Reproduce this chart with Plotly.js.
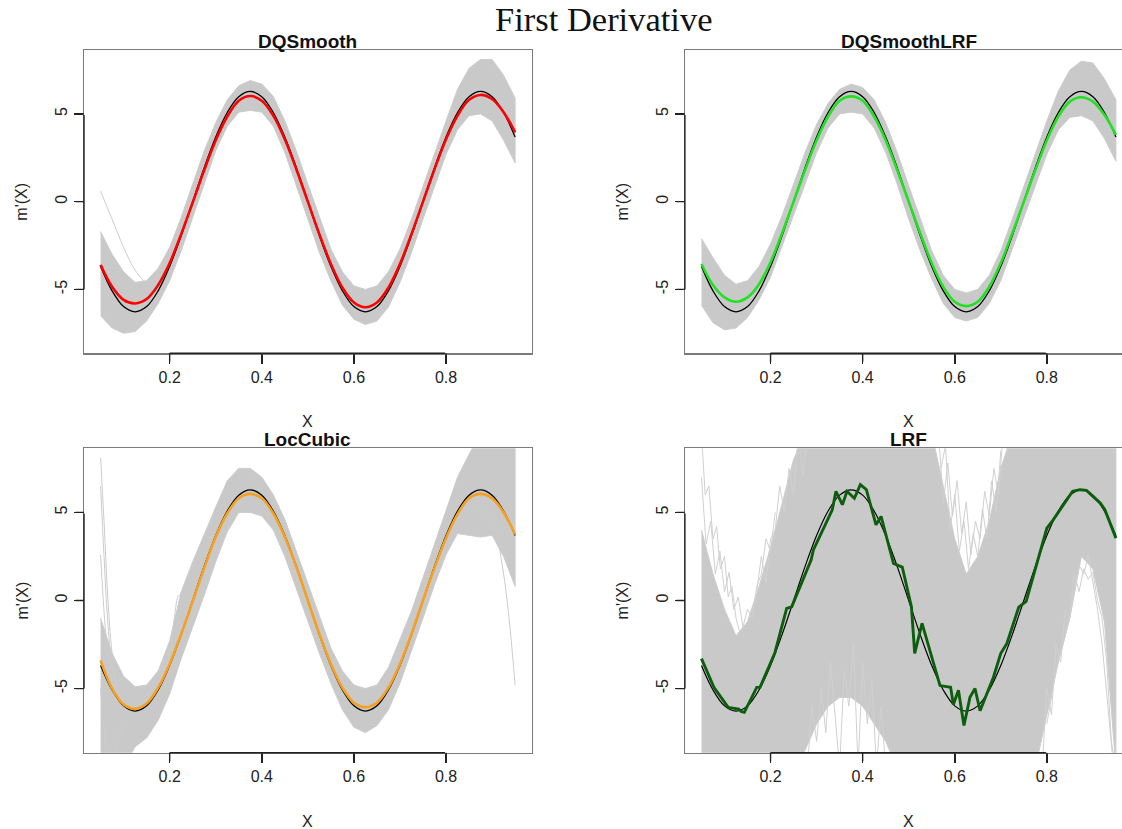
<!DOCTYPE html>
<html>
<head>
<meta charset="utf-8">
<script src="https://cdn.plot.ly/plotly-3.0.1.min.js"></script>
<style>
html,body{margin:0;padding:0;overflow:hidden;background:#fff;}
#chart{width:1202px;height:829px;}
</style>
</head>
<body>
<div id="chart"></div>
<script>
// ---------------- data ----------------
const xGrid = [0.05,0.075,0.1,0.125,0.15,0.175,0.2,0.225,0.25,0.275,0.3,0.325,0.35,0.375,0.4,0.425,0.45,0.475,0.5,
  0.525,0.55,0.575,0.6,0.625,0.65,0.675,0.7,0.725,0.75,0.775,0.8,0.825,0.85,0.875,0.9,0.925,0.95];

// true first derivative (black)
const trueDeriv = [-3.69,-5.08,-5.98,-6.28,-5.98,-5.08,-3.69,-1.94,0,1.94,3.69,5.08,5.98,6.28,5.98,5.08,3.69,1.94,0,
  -1.94,-3.69,-5.08,-5.98,-6.28,-5.98,-5.08,-3.69,-1.94,0,1.94,3.69,5.08,5.98,6.28,5.98,5.08,3.69];

// DQSmooth
const dqsMean = [-3.6,-4.85,-5.6,-5.8,-5.55,-4.75,-3.5,-1.85,-0.05,1.8,3.5,4.85,5.75,6.02,5.75,4.9,3.55,1.85,0,
  -1.85,-3.55,-4.9,-5.75,-6.02,-5.75,-4.9,-3.55,-1.85,0,1.85,3.55,4.9,5.8,6.08,5.85,5.1,3.95];
const dqsUpper = [-1.7,-3.0,-4.0,-4.6,-4.5,-3.8,-2.6,-0.9,1.0,2.9,4.5,5.8,6.6,6.9,6.7,6.0,4.6,2.9,1.0,
  -0.9,-2.7,-4.0,-4.8,-5.0,-4.8,-4.0,-2.7,-1.0,0.9,2.8,4.6,6.4,7.6,8.1,8.1,7.2,5.9];
const dqsLower = [-6.5,-7.2,-7.5,-7.4,-6.8,-5.8,-4.5,-2.8,-0.9,1.0,2.9,4.3,5.1,5.2,5.1,4.3,2.8,1.0,-1.0,
  -2.9,-4.5,-5.9,-6.7,-7.0,-6.8,-6.0,-4.6,-2.9,-1.0,0.9,2.7,4.1,4.9,5.0,4.6,3.5,2.2];
const dqsOutlierX = [0.05,0.075,0.1,0.125,0.15,0.175];
const dqsOutlierY = [0.6,-1.0,-2.6,-3.9,-4.6,-4.5];

// DQSmoothLRF
const dqlMean = [-3.55,-4.75,-5.45,-5.7,-5.45,-4.7,-3.45,-1.8,0,1.8,3.5,4.85,5.75,6.0,5.75,4.85,3.5,1.8,0,
  -1.8,-3.5,-4.85,-5.7,-5.95,-5.7,-4.85,-3.5,-1.8,0,1.8,3.5,4.85,5.7,5.95,5.7,4.95,3.8];
const dqlUpper = [-2.1,-3.2,-4.2,-4.7,-4.5,-3.7,-2.4,-0.8,1.0,2.8,4.4,5.6,6.4,6.7,6.5,5.8,4.5,2.8,0.9,
  -1.0,-2.8,-4.2,-5.0,-5.2,-5.0,-4.2,-2.8,-1.0,0.9,2.8,4.6,6.3,7.5,8.0,7.9,7.0,5.8];
const dqlLower = [-5.9,-6.9,-7.3,-7.2,-6.6,-5.6,-4.3,-2.6,-0.8,1.0,2.8,4.2,5.0,5.1,5.0,4.2,2.8,1.0,-1.0,
  -2.8,-4.4,-5.8,-6.6,-6.8,-6.6,-5.8,-4.5,-2.8,-0.9,0.9,2.7,4.1,4.8,4.9,4.6,3.6,2.3];

// LocCubic
const lcMean = [-3.4,-5.0,-5.9,-6.15,-5.85,-4.95,-3.6,-1.9,-0.05,1.85,3.6,4.95,5.8,6.05,5.8,4.95,3.6,1.9,0,
  -1.9,-3.6,-4.95,-5.8,-6.05,-5.8,-4.95,-3.6,-1.9,0,1.85,3.55,4.9,5.8,6.05,5.8,5.0,3.75];
const lcUpper = [-1.0,-3.0,-4.3,-4.9,-4.8,-4.0,-2.3,0.5,2.2,3.8,5.3,6.8,7.5,7.5,7.0,6.0,4.6,2.8,1.0,
  -0.9,-2.7,-4.0,-4.8,-5.0,-4.8,-3.8,-2.2,-0.6,1.3,3.2,5.2,7.0,8.3,9.5,9.5,9.5,9.5];
const lcLower = [-9.5,-9.5,-9.5,-8.3,-7.8,-6.8,-5.3,-3.3,-1.5,0.3,2.2,3.9,5.0,5.0,4.8,4.0,2.5,0.6,-1.2,
  -3.0,-4.7,-6.2,-7.2,-7.5,-7.1,-6.2,-4.7,-2.9,-1.0,0.9,2.6,3.8,3.7,3.6,3.7,2.5,0.8];
const lcOutliers = [
  {x:[0.05,0.0575,0.065,0.075,0.0875,0.1], y:[8.1,4.5,0.5,-3.0,-5.0,-5.8]},
  {x:[0.05,0.0575,0.065,0.075,0.0875], y:[6.5,2.5,-1.0,-3.8,-5.2]},
  {x:[0.05,0.06,0.07,0.08,0.09], y:[2.6,-1.5,-4.0,-5.5,-6.0]},
  {x:[0.05,0.06,0.07,0.08,0.1], y:[-5.0,-8.0,-9.5,-8.5,-7.0]},
  {x:[0.85,0.875,0.9,0.925,0.95], y:[5.5,5.2,4.5,1.5,-4.8]},
  {x:[0.18,0.2,0.21,0.22,0.23,0.24,0.25,0.27], y:[-4.5,-3.0,-1.0,0.3,0.0,-1.5,-1.0,0.8]}
];

// LRF
const lrfMeanX = [0.05,0.077,0.108,0.131,0.136,0.143,0.17,0.177,0.209,0.235,0.246,0.288,0.293,0.334,0.342,0.356,0.366,0.382,
  0.395,0.408,0.429,0.44,0.467,0.486,0.506,0.513,0.529,0.552,0.568,0.591,0.597,0.608,0.62,0.633,0.644,0.655,0.669,0.684,
  0.7,0.713,0.739,0.749,0.755,0.8,0.813,0.856,0.872,0.886,0.916,0.926,0.95];
const lrfMeanY = [-3.3,-4.93,-6.07,-6.17,-6.3,-6.35,-4.93,-4.93,-3.0,-0.45,-0.36,2.3,2.87,5.15,6.2,5.44,6.2,5.8,
  6.58,6.3,4.3,4.77,2.1,1.9,-0.37,-3.0,-1.3,-3.4,-4.83,-4.93,-5.9,-5.1,-7.1,-5.5,-5.0,-6.26,-5.3,-4.36,
  -3.0,-2.45,-0.37,-0.17,-0.05,4.1,4.55,6.2,6.29,6.25,5.53,5.15,3.54];
const lrfUpper = [4.0,1.5,-0.5,-2.0,-1.2,0.8,3.0,5.5,8.0,9.5,9.5,9.5,9.5,9.5,9.5,9.5,9.5,9.5,9.5,
  9.5,9.5,6.5,3.5,1.5,2.5,4.5,7.5,9.5,9.5,9.5,9.5,9.5,9.5,9.5,9.5,9.5,9.5];
const lrfLower = [-9.5,-9.5,-9.5,-9.5,-9.5,-9.5,-9.5,-9.5,-9.5,-8.5,-7.0,-6.0,-5.5,-5.5,-6.0,-7.0,-8.0,-9.5,-9.5,
  -9.5,-9.5,-9.5,-9.5,-9.5,-9.5,-9.5,-9.5,-9.5,-9.5,-9.5,-6.5,-3.5,-1.0,2.5,1.8,-1.2,-9.5];
const lrfStreaks = [
  {x:[0.05,0.058,0.066,0.075,0.083,0.091,0.1,0.108,0.116,0.125,0.133], y:[9.5,6.0,6.5,3.5,4.2,1.8,2.5,0.2,0.8,-1.0,-1.8]},
  {x:[0.05,0.06,0.07,0.08,0.09,0.1,0.11,0.12,0.13,0.14,0.15,0.16,0.17,0.18,0.19,0.2,0.21],
   y:[7.0,3.2,4.5,1.5,2.8,0.5,1.6,-0.5,0.2,-1.5,-0.5,-1.0,0.8,1.5,3.5,2.8,5.0]},
  {x:[0.17,0.18,0.19,0.2,0.21,0.22,0.23,0.24,0.25,0.26,0.27,0.28], y:[0.5,2.5,1.0,3.5,4.0,6.5,5.0,7.5,6.0,9.5,7.0,9.5]},
  {x:[0.565,0.575,0.585,0.595,0.605,0.615,0.625,0.635,0.645,0.655,0.665,0.675,0.685,0.695,0.705,0.715],
   y:[9.5,5.5,7.8,4.8,6.8,3.8,5.6,2.6,4.5,3.5,6.2,4.8,7.5,6.0,9.5,8.5]},
  {x:[0.57,0.58,0.59,0.6,0.61,0.62,0.63,0.64,0.65,0.66,0.67,0.68,0.69,0.7],
   y:[7.5,8.8,4.0,6.0,2.8,4.5,1.8,3.8,2.5,5.2,3.5,6.8,5.0,8.5]},
  {x:[0.28,0.29,0.3,0.31,0.32,0.33,0.34,0.35,0.36,0.37,0.38,0.39,0.4,0.41,0.42,0.43,0.44,0.45],
   y:[-9.5,-6.0,-8.0,-5.0,-7.5,-3.5,-6.5,-9.5,-4.0,-6.0,-2.5,-9.5,-3.5,-7.0,-4.5,-9.5,-6.0,-9.5]},
  {x:[0.79,0.8,0.81,0.82,0.83,0.84,0.85,0.86,0.87,0.88,0.89,0.9,0.91,0.92,0.93,0.94,0.95],
   y:[-9.5,-5.0,-6.5,-2.5,-3.5,-0.5,-1.0,1.5,0.5,1.8,1.2,1.6,0.0,-1.0,-3.5,-8.0,-9.5]},
  {x:[0.8,0.82,0.84,0.86,0.87,0.88,0.89,0.9,0.91,0.92,0.93,0.94,0.945], y:[-7,-4,-2,0.5,2.0,1.5,2.6,1.0,-0.5,-2.5,-5.5,-8.5,-9.5]}
];

const panelTitles = ['DQSmooth','DQSmoothLRF','LocCubic','LRF'];
const xTickVals = [0.2,0.4,0.6,0.8];
const xTickText = ['0.2','0.4','0.6','0.8'];
const yTickVals = [-5,0,5];
const yTickText = ['-5','0','5'];
const mainTitle = 'First Derivative';
const yLabel = "m'(X)";
const xLabel = 'X';

// ---------------- geometry (pixels of a 1202 x 829 device) ----------------
const W = 1202, H = 829;
const PX = v => v / W, PY = v => 1 - v / H;
const XR = [0.014, 0.986], YR = [-8.64, 8.64];
const boxes = [ // [left, right, top, bottom] in px
  [84, 531.7, 50, 353.3],
  [684.9, 1132.5, 50, 353.3],
  [84, 531.7, 448.3, 752.7],
  [684.9, 1132.5, 448.3, 752.7]
];
const TICKLEN = 9;
const GRAY = '#c9c9c9';
const AXCOL = '#222';
const traces = [];
const suf = i => (i === 0 ? '' : String(i + 1));

function band(i, up, lo) {
  traces.push({x: xGrid.concat(xGrid.slice().reverse()), y: up.concat(lo.slice().reverse()),
    xaxis: 'x' + suf(i), yaxis: 'y' + suf(i), type: 'scatter', mode: 'lines', fill: 'toself',
    fillcolor: GRAY, line: {color: '#cccccc', width: 1}, hoverinfo: 'skip'});
}
function gline(i, xs, ys, color, width, shape) {
  traces.push({x: xs, y: ys, xaxis: 'x' + suf(i), yaxis: 'y' + suf(i), type: 'scatter', mode: 'lines',
    line: {color: color, width: width, shape: shape || 'linear'}, hoverinfo: 'skip'});
}

// Panel 1
band(0, dqsUpper, dqsLower);
gline(0, dqsOutlierX, dqsOutlierY, '#cccccc', 1, 'spline');
gline(0, xGrid, trueDeriv, '#000000', 1.3, 'spline');
gline(0, xGrid, dqsMean, '#ff0000', 2.6, 'spline');
// Panel 2
band(1, dqlUpper, dqlLower);
gline(1, xGrid, trueDeriv, '#000000', 1.3, 'spline');
gline(1, xGrid, dqlMean, '#22e022', 2.6, 'spline');
// Panel 3
band(2, lcUpper, lcLower);
lcOutliers.forEach(o => gline(2, o.x, o.y, '#cccccc', 1, 'spline'));
gline(2, xGrid, trueDeriv, '#000000', 1.3, 'spline');
gline(2, xGrid, lcMean, '#f5a020', 2.6, 'spline');
// Panel 4
band(3, lrfUpper, lrfLower);
lrfStreaks.forEach(o => gline(3, o.x, o.y, '#d0d0d0', 1));
gline(3, xGrid, trueDeriv, '#000000', 1.2, 'spline');
gline(3, lrfMeanX, lrfMeanY, '#0b5e0b', 2.9);

const layout = {
  width: W, height: H, margin: {l: 0, r: 0, t: 0, b: 0}, showlegend: false,
  paper_bgcolor: '#fff', plot_bgcolor: '#fff',
  font: {family: 'Liberation Sans, Arial, sans-serif', color: '#222'},
  annotations: []
};
const axStyle = {showline: true, mirror: true, linecolor: '#7a7a7a', linewidth: 1.2, ticks: 'outside',
  ticklen: TICKLEN, tickwidth: 1.5, tickcolor: AXCOL, showgrid: false, zeroline: false,
  tickfont: {family: 'Liberation Sans, Arial, sans-serif', size: 16, color: '#222'}};

// axis segment / tick mark drawn as a text-less arrow
function seg(o) {
  return Object.assign({text: '', showarrow: true, arrowhead: 0, arrowwidth: 1.4, arrowcolor: AXCOL,
    width: 1, height: 1, borderpad: 0, font: {size: 1}}, o);
}

boxes.forEach((b, i) => {
  const s = suf(i);
  layout['xaxis' + s] = Object.assign({}, axStyle, {domain: [PX(b[0]), PX(b[1])], anchor: 'y' + s,
    range: XR, tickvals: xTickVals, ticktext: xTickText});
  layout['yaxis' + s] = Object.assign({}, axStyle, {domain: [PY(b[3]), PY(b[2])], anchor: 'x' + s,
    range: YR, tickvals: yTickVals, ticktext: yTickText, tickangle: -90});
  // axis segments (R draws the axis only between the first and last tick)
  layout.annotations.push(seg({xref: 'x' + s, yref: 'y' + s + ' domain', x: xTickVals[0], y: 0,
    axref: 'x' + s, ax: xTickVals[xTickVals.length - 1], ayref: 'pixel', ay: 0}));
  layout.annotations.push(seg({xref: 'x' + s, yref: 'y' + s, x: XR[0], y: yTickVals[0],
    axref: 'pixel', ax: 0, ayref: 'y' + s, ay: yTickVals[yTickVals.length - 1]}));
  // tick marks (reinforce the axis ticks)
  xTickVals.forEach(v => layout.annotations.push(seg({xref: 'x' + s, yref: 'y' + s + ' domain', x: v, y: 0,
    axref: 'pixel', ax: 0, ayref: 'pixel', ay: TICKLEN + 0.5})));
  yTickVals.forEach(v => layout.annotations.push(seg({xref: 'x' + s, yref: 'y' + s, x: XR[0], y: v,
    axref: 'pixel', ax: -(TICKLEN + 0.5), ayref: 'pixel', ay: 0})));
  const cx = (b[0] + b[1]) / 2;
  layout.annotations.push({text: '<b>' + panelTitles[i] + '</b>', xref: 'paper', yref: 'paper',
    x: PX(cx), y: PY(b[2] - 8.5), xanchor: 'center', yanchor: 'middle', showarrow: false,
    font: {family: 'Liberation Sans, Arial, sans-serif', size: 19, color: '#111'}});
  layout.annotations.push({text: xLabel, xref: 'paper', yref: 'paper', x: PX(cx), y: PY(b[3] + 68.5),
    xanchor: 'center', yanchor: 'middle', showarrow: false,
    font: {family: 'Liberation Sans, Arial, sans-serif', size: 16, color: '#222'}});
  layout.annotations.push({text: yLabel, xref: 'paper', yref: 'paper', x: PX(b[0] - 62),
    y: PY((b[2] + b[3]) / 2), xanchor: 'center', yanchor: 'middle', textangle: -90, showarrow: false,
    font: {family: 'Liberation Sans, Arial, sans-serif', size: 16, color: '#222'}});
});
layout.annotations.push({text: mainTitle, xref: 'paper', yref: 'paper', x: PX(604), y: PY(19),
  xanchor: 'center', yanchor: 'middle', showarrow: false,
  font: {family: 'Liberation Serif, DejaVu Serif, serif', size: 34.5, color: '#111'}});

Plotly.newPlot('chart', traces, layout, {staticPlot: true, displayModeBar: false});
</script>
</body>
</html>
